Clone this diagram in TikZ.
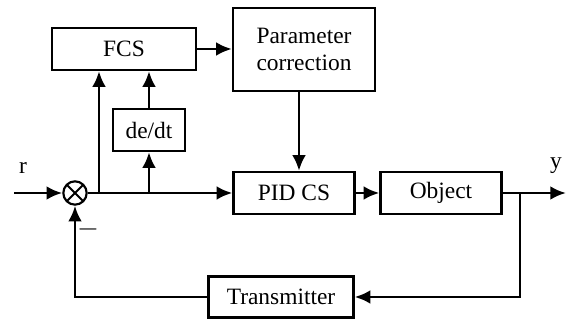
\documentclass[tikz,border=0pt]{standalone}
\usepackage{fontspec}
\setmainfont{Liberation Serif}
\usepackage{tikz}
\usetikzlibrary{calc}
\usetikzlibrary{arrows}
\usetikzlibrary{arrows.meta}
\usetikzlibrary{positioning}
\tikzset{>=latex}
\tikzstyle{block} = [rectangle, draw=black, line width=1.2pt, inner sep=0pt, align=center, font=\fontsize{12}{14}\selectfont]
\tikzstyle{sig} = [-{Latex[length=8pt, width=7pt]}, line width=1.4pt]
\tikzstyle{sumnode} = [circle, draw=black, line width=1.1pt, minimum size=0.42cm, inner sep=0pt, path picture={\draw[line width=1pt] (path picture bounding box.north west) -- (path picture bounding box.south east) (path picture bounding box.north east) -- (path picture bounding box.south west);}]

\begin{document}
\begin{tikzpicture}[x=0.018cm, y=-0.018cm]
\useasboundingbox (0, 0) rectangle (566, 320);
\node [block, minimum width=2.59cm, minimum height=0.756cm] (FCS) at (124, 49) {FCS};
\node [block, minimum width=2.556cm, minimum height=1.494cm] (par) at (304, 49.5) {Parameter\\correction};
\node [block, minimum width=1.296cm, minimum height=0.756cm] (dedt) at (149, 130) {de/dt};
\node [block, minimum width=2.178cm, minimum height=0.756cm] (PID) at (294, 193) {PID CS};
\node [block, minimum width=2.178cm, minimum height=0.756cm] (obj) at (441, 193) {Object};
\node [block, minimum width=2.61cm, minimum height=0.738cm] (trans) at (281, 297) {Transmitter};
\node [sumnode] (sum) at (75, 193) {};
\coordinate (in) at (14, 193);
\coordinate (out) at (566, 193);
\coordinate (b1) at (99, 193);
\coordinate (b2) at (149, 193);
\coordinate (b3) at (520, 193);
\node [font=\fontsize{12}{14}\selectfont] (r) at (23, 168) {r};
\node [font=\fontsize{12}{14}\selectfont] (y) at (556, 166) {y};
\node [font=\fontsize{14}{14}\selectfont] (minus) at (88, 229) {$-$};
\draw [sig] (in) -- (sum.west);
\draw [sig] (sum.east) -- (PID.west);
\draw [sig] (b1) -- (b1 |- FCS.south);
\draw [sig] (b2) -- (dedt.south);
\draw [sig] (dedt.north) -- (dedt.north |- FCS.south);
\draw [sig] (FCS.east) -- (par.west |- FCS.east);
\draw [sig] ($(par.south)+(-5,0)$) -- ($(par.south |- PID.north)+(-5,0)$);
\draw [sig] (PID.east) -- (obj.west);
\draw [sig] (obj.east) -- (out);
\draw [sig] (b3) |- (trans.east);
\draw [sig] (trans.west) -| (sum.south);
\end{tikzpicture}
\end{document}
